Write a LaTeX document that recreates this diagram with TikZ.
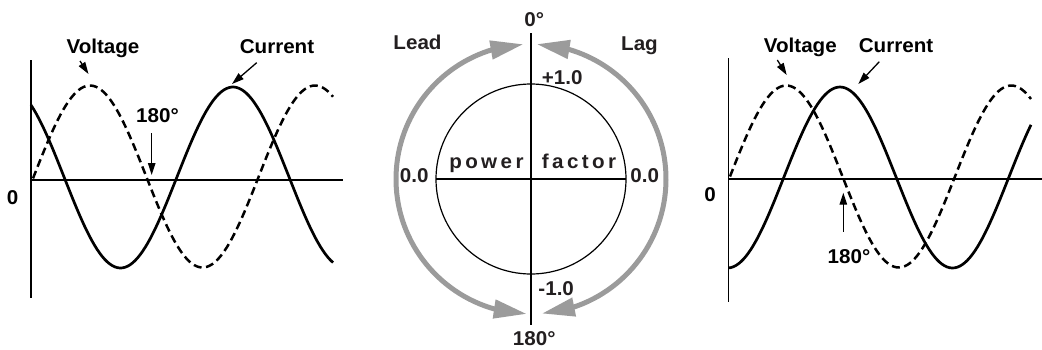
\documentclass[tikz,border=0pt]{standalone}
\usepackage{fontspec}
\newfontfamily\lbl{Liberation Sans}[FakeStretch=1.03]
\newfontfamily\lblsp{Liberation Sans}[FakeStretch=1.03,LetterSpace=17]
\usetikzlibrary{arrows.meta,bending}
\definecolor{ink}{HTML}{231F20}
\definecolor{arcgray}{HTML}{9B9B9B}
\tikzset{
  axisline/.style={line width=1.2pt, black},
  wavesolid/.style={line width=2.7pt, black},
  wavedash/.style={line width=2.5pt, black, dash pattern=on 8pt off 4.5pt},
  pointer/.style={line width=1.3pt, -{Triangle[length=12pt,width=7.5pt]}},
  wlabel/.style={font=\lbl\bfseries\fontsize{20}{22}\selectfont, inner sep=0pt, anchor=base},
  mlabel/.style={font=\lbl\bfseries\fontsize{20}{22}\selectfont, text=ink, inner sep=0pt, anchor=base},
  pflabel/.style={font=\lblsp\bfseries\fontsize{20}{22}\selectfont, text=ink, inner sep=0pt, anchor=base},
  grayarc/.style={line width=5pt, arcgray, {Triangle[length=33pt,width=18pt,flex]}-{Triangle[length=33pt,width=18pt,flex]}}
}
\begin{document}
\begin{tikzpicture}[x=1pt,y=-1pt]
\useasboundingbox (0,0) rectangle (1042,349);
% ---------- left panel ----------
\coordinate (la1) at (31,60);
\coordinate (la2) at (31,298);
\coordinate (lh1) at (31,180);
\coordinate (lh2) at (343,180);
\draw[axisline] (la1) -- (la2);
\draw[axisline] (lh1) -- (lh2);
\draw[wavedash] plot[domain=33:333, samples=120] (\x, {176.5 - 91*sin(1.6*(\x-33.75))});
\draw[wavesolid] plot[domain=31:333, samples=120] (\x, {177.5 - 90.5*cos(1.6*(\x-233))});
\node[wlabel] (lzero) at (12.7,204) {0};
\node[wlabel] (lvolt) at (103,53.3) {Voltage};
\node[wlabel] (lcurr) at (277,53.3) {Current};
\node[wlabel] (l180) at (157.5,122.7) {180°};
\coordinate (lvs) at (80,61);
\coordinate (lve) at (88.5,74);
\coordinate (lcs) at (256.7,62.7);
\coordinate (lce) at (232,84);
\coordinate (l18s) at (151.7,133.3);
\coordinate (l18e) at (151.7,175);
\draw[pointer] (lvs) -- (lve);
\draw[pointer] (lcs) -- (lce);
\draw[pointer] (l18s) -- (l18e);
% ---------- middle panel ----------
\coordinate (c) at (531,179);
\coordinate (mv1) at (531,33.3);
\coordinate (mv2) at (531,325);
\coordinate (mh1) at (436,179);
\coordinate (mh2) at (626,179);
\draw[line width=1.2pt] (c) circle[radius=95];
\draw[axisline] (mv1) -- (mv2);
\draw[axisline] (mh1) -- (mh2);
\draw[grayarc] ([shift={(91.8:135)}]c) arc[start angle=91.8, end angle=266.8, radius=135];
\draw[grayarc] ([shift={(85.4:135)}]c) arc[start angle=85.4, end angle=-87.6, radius=135];
\node[mlabel] (m0) at (534.2,26) {0°};
\node[mlabel] (mlead) at (417.5,49.3) {Lead};
\node[mlabel] (mlag) at (639.5,50.7) {Lag};
\node[mlabel] (mp1) at (562.2,84) {+1.0};
\node[mlabel] (mzl) at (414.2,182.7) {0.0};
\node[mlabel] (mzr) at (644.7,182.7) {0.0};
\node[mlabel] (mm1) at (556.2,295) {-1.0};
\node[mlabel] (m180) at (534.2,345) {180°};
\node[pflabel] (mpow) at (486.4,168.3) {power};
\node[pflabel] (mfac) at (579,168.3) {factor};
% ---------- right panel ----------
\coordinate (ra1) at (728.3,58);
\coordinate (ra2) at (728.3,302);
\coordinate (rh1) at (728.3,179);
\coordinate (rh2) at (1042,179);
\draw[axisline] (ra1) -- (ra2);
\draw[axisline] (rh1) -- (rh2);
\draw[wavedash] plot[domain=730:1031, samples=120] (\x, {176.5 - 91*sin(1.6*(\x-730))});
\draw[wavesolid] plot[domain=728.3:1031, samples=120] (\x, {177.5 - 90.5*cos(1.6*(\x-840))});
\node[wlabel] (rzero) at (710,201.7) {0};
\node[wlabel] (rvolt) at (800.3,52.3) {Voltage};
\node[wlabel] (rcurr) at (896,52.3) {Current};
\node[wlabel] (r180) at (849,263.3) {180°};
\coordinate (rvs) at (777.3,60);
\coordinate (rve) at (786.7,75);
\coordinate (rcs) at (879.3,61.7);
\coordinate (rce) at (858.3,84);
\coordinate (r18s) at (843.3,231.7);
\coordinate (r18e) at (843.3,192.7);
\draw[pointer] (rvs) -- (rve);
\draw[pointer] (rcs) -- (rce);
\draw[pointer] (r18s) -- (r18e);
\end{tikzpicture}
\end{document}
